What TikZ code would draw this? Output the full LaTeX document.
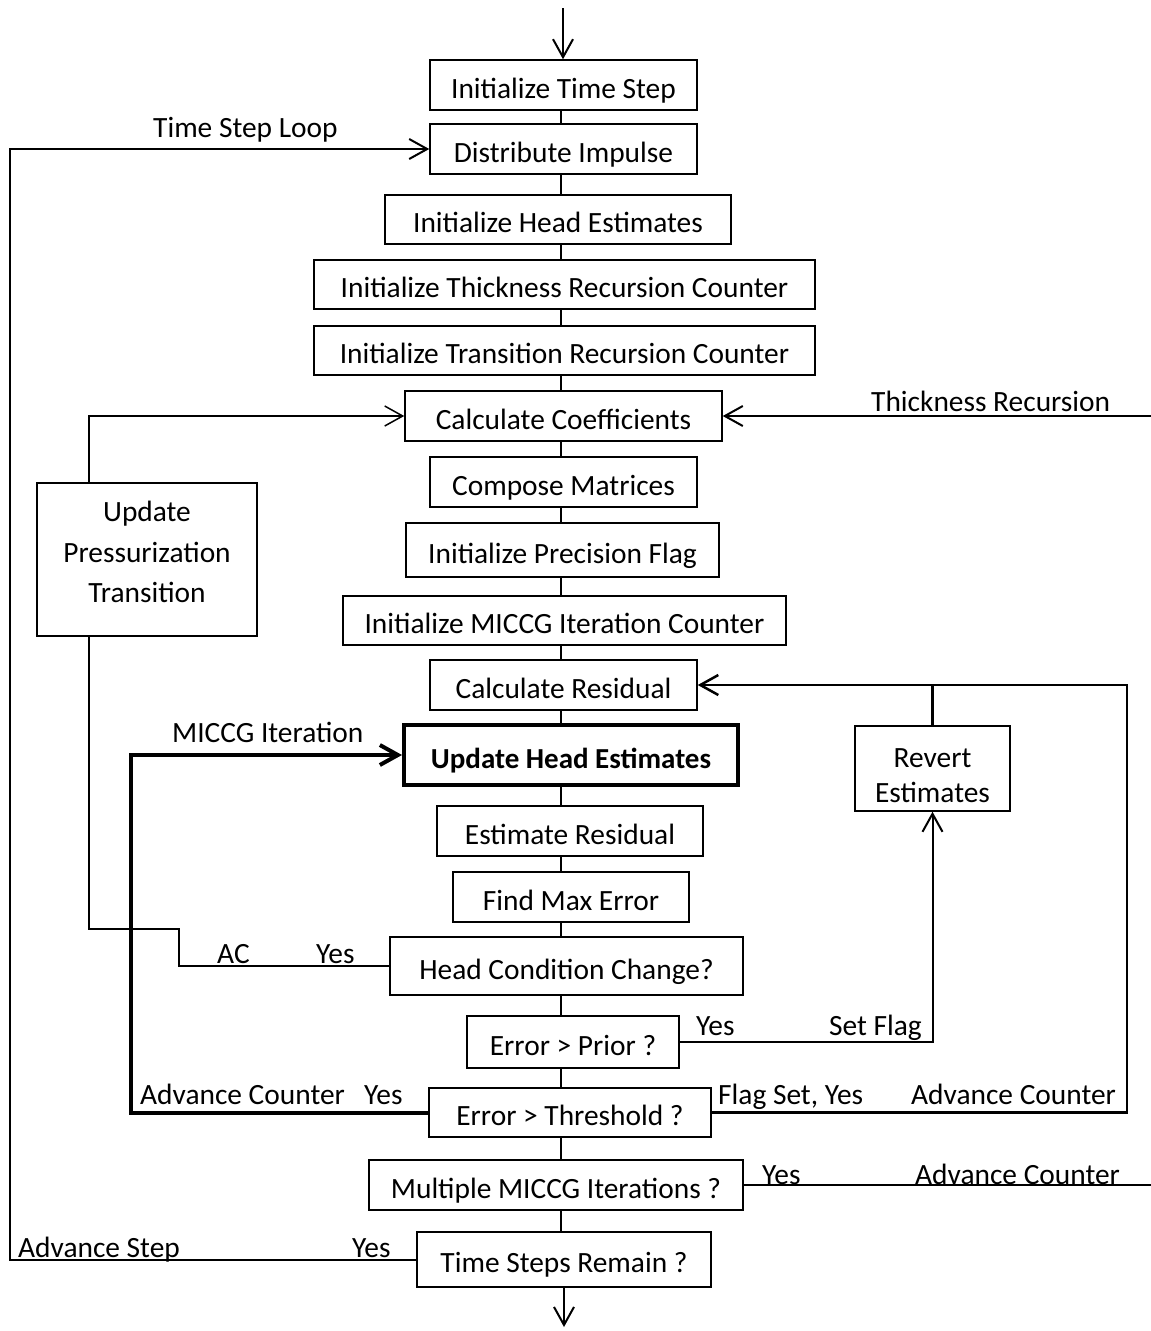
\documentclass[tikz,border=0pt]{standalone}
\usepackage{fontspec}
\setmainfont{Carlito}
\usetikzlibrary{arrows.meta}
\begin{document}
\begin{tikzpicture}[x=1pt,y=-1pt,
  >={Straight Barb[length=18pt,width=20pt]},
  every node/.style={font=\fontsize{29.4}{35}\selectfont},
  box/.style={draw,line width=1.5pt,inner sep=0pt,align=center,text height=30pt,text depth=4pt},
  mbox/.style={draw,line width=1.5pt,inner sep=0pt,align=center},
  conn/.style={line width=2pt},
  lab/.style={anchor=base west,inner sep=0pt}]
\useasboundingbox (0,0) rectangle (1151,1331);
% main column
\node[box,minimum width=267,minimum height=50] (b1) at (563.5,85) {Initialize Time Step};
\node[box,minimum width=267,minimum height=50] (b2) at (563.5,149) {Distribute Impulse};
\node[box,line width=2.5pt,minimum width=346,minimum height=49] (b3) at (558,219.5) {Initialize Head Estimates};
\node[box,minimum width=501,minimum height=49] (b4) at (564.5,284.5) {Initialize Thickness Recursion Counter};
\node[box,minimum width=501,minimum height=49] (b5) at (564.5,350.5) {Initialize Transition Recursion Counter};
\node[box,minimum width=317,minimum height=50] (b6) at (563.5,416) {Calculate Coefficients};
\node[box,minimum width=267,minimum height=50] (b7) at (563.5,482) {Compose Matrices};
\node[box,minimum width=313,minimum height=54] (b8) at (562.5,550) {Initialize Precision Flag};
\node[box,minimum width=443,minimum height=49] (b9) at (564.5,620.5) {Initialize MICCG Iteration Counter};
\node[box,minimum width=267,minimum height=50] (b10) at (563.5,685) {Calculate Residual};
\node[box,line width=4pt,minimum width=334,minimum height=60,font=\fontsize{29}{35}\selectfont\bfseries] (b11) at (571,755) {Update Head Estimates};
\node[box,minimum width=266,minimum height=50] (b12) at (570,831) {Estimate Residual};
\node[box,minimum width=236,minimum height=50] (b13) at (571,897) {Find Max Error};
\node[box,minimum width=353,minimum height=58] (b14) at (566.5,966) {Head Condition Change?};
\node[box,minimum width=212,minimum height=52] (b15) at (573,1042) {Error {>} Prior ?};
\node[box,minimum width=282,minimum height=49] (b16) at (570,1112.5) {Error {>} Threshold ?};
\node[box,minimum width=374,minimum height=50] (b17) at (556,1185) {Multiple MICCG Iterations ?};
\node[box,minimum width=294,minimum height=55] (b18) at (564,1259.5) {Time Steps Remain ?};
% side boxes
\node[mbox,minimum width=220,minimum height=153,text height=90pt,text depth=4pt,font=\fontsize{29.4}{40.5}\selectfont] (pt) at (147,559.5) {Update\\Pressurization\\Transition};
\node[mbox,minimum width=155,minimum height=85,text height=71pt,text depth=4pt,font=\fontsize{29.4}{35}\selectfont] (rv) at (932.5,768.5) {Revert\\Estimates};
% helper coordinates
\coordinate (c) at (561,0);
\coordinate (top) at (563,8);
\coordinate (bot) at (564,1327);
\coordinate (lx) at (10,0);
\coordinate (ptx) at (89,0);
\coordinate (re) at (1151,0);
\coordinate (mx) at (131,0);
\coordinate (rx) at (1127,0);
\coordinate (j1) at (179,929);
% central connectors
\draw[conn,->] (top) -- (top |- b1.north);
\foreach \a/\b in {b1/b2,b2/b3,b3/b4,b4/b5,b5/b6,b6/b7,b7/b8,b8/b9,b9/b10,b10/b11,b11/b12,b12/b13,b13/b14,b14/b15,b15/b16,b16/b17,b17/b18}
  \draw[conn] (\a.south -| c) -- (\b.north -| c);
\draw[conn,->] (b18.south -| bot) -- (bot);
% time step loop
\draw[conn,->] (b18.west) -| (lx |- b2.west) -- (b2.west);
% thickness recursion
\draw[conn,->] (re |- b6.east) -- (b6.east);
% pressurization transition
\draw[line width=1.5pt,->] (ptx |- pt.north) |- (b6.west);
\draw[line width=1.5pt] (b14.west) -| (j1) -| (ptx |- pt.south);
% MICCG iteration loop
\draw[line width=4pt,->] (b16.west) -| (mx |- b11.west) -- (b11.west);
% right loop to calculate residual
\draw[line width=2.5pt,->] (b16.east) -| (rx |- b10.east) -- (b10.east);
\draw[line width=2.5pt] (rv.north) -- (rv.north |- b10.east);
\draw[conn,->] (b15.east) -| (rv.south);
% multiple MICCG
\draw[conn] (b17.east) -- (re |- b17.east);
% labels
\node[lab] (l1) at (153,137) {Time Step Loop};
\node[lab] (l2) at (871,411) {Thickness Recursion};
\node[lab] (l3) at (172,742) {MICCG Iteration};
\node[lab] (l4) at (217,963) {AC};
\node[lab] (l5) at (316,963) {Yes};
\node[lab] (l6) at (696,1035) {Yes};
\node[lab] (l7) at (829,1035) {Set Flag};
\node[lab] (l8) at (140,1104) {Advance Counter};
\node[lab] (l9) at (364,1104) {Yes};
\node[lab] (l10) at (718,1104) {Flag Set, Yes};
\node[lab] (l11) at (911,1104) {Advance Counter};
\node[lab] (l12) at (762,1184) {Yes};
\node[lab] (l13) at (915,1184) {Advance Counter};
\node[lab] (l14) at (18,1257) {Advance Step};
\node[lab] (l15) at (352,1257) {Yes};
\end{tikzpicture}
\end{document}
